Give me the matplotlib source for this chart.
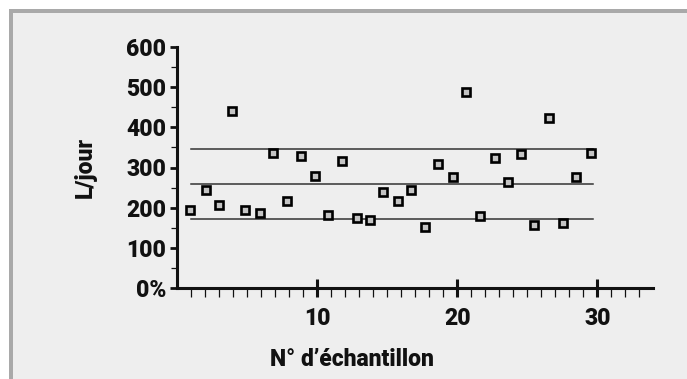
import matplotlib
import matplotlib.pyplot as plt
from matplotlib.patches import Rectangle
from matplotlib.ticker import MultipleLocator, FixedLocator

matplotlib.use('Agg')

# positions of the samples (n° d'échantillon)
sample_x = [0.93, 2.03, 2.95, 3.88, 4.84, 5.93, 6.86, 7.81, 8.86, 9.86,
            10.79, 11.74, 12.81, 13.76, 14.71, 15.76, 16.71, 17.69, 18.64, 19.69,
            20.64, 21.60, 22.67, 23.62, 24.55, 25.50, 26.57, 27.55, 28.50, 29.57]
# litres per day
litres = [195, 245, 208, 440, 195, 186, 335, 216, 328, 278,
          182, 315, 174, 169, 238, 216, 245, 153, 308, 277,
          488, 179, 324, 264, 333, 157, 424, 161, 277, 336]

# reference lines (upper / middle / lower)
ref_levels = [347, 258, 173]
ref_start, ref_end = 0.96, 29.7

y_ticks = [0, 100, 200, 300, 400, 500, 600]
y_labels = ["0%", "100", "200", "300", "400", "500", "600"]
x_ticks = [10, 20, 30]

plt.rcParams['font.family'] = ['Roboto', 'Liberation Sans', 'DejaVu Sans']
plt.rcParams['font.weight'] = 'black'
ink = "#111111"
fsize = 16.5

fig = plt.figure(figsize=(6.87, 3.79), dpi=100, facecolor="white")
# grey frame on top/left and light grey panel
fig.patches.append(Rectangle((9 / 687, 0), 1, 1 - 9 / 379, transform=fig.transFigure,
                             facecolor="#a9a9a9", edgecolor="none", zorder=-2))
fig.patches.append(Rectangle((13 / 687, 0), 1, 1 - 13 / 379, transform=fig.transFigure,
                             facecolor="#eeeeee", edgecolor="none", zorder=-1))

ax = fig.add_axes([177.3 / 687, 90.7 / 379, 476 / 687, 241.6 / 379])
ax.set_facecolor("none")

for lvl in ref_levels:
    ax.plot([ref_start, ref_end], [lvl, lvl], color="#333333", lw=1.1, zorder=2)

ax.plot(sample_x, litres, linestyle="none", marker="s", markersize=5.8,
        markerfacecolor="#c4c4c4", markeredgecolor="black", markeredgewidth=1.9,
        zorder=3, clip_on=False)

ax.set_xlim(0, 34)
ax.set_ylim(0, 600)

for side in ["top", "right"]:
    ax.spines[side].set_visible(False)
for side in ["left", "bottom"]:
    ax.spines[side].set_linewidth(2.2)
    ax.spines[side].set_color(ink)

ax.xaxis.set_major_locator(FixedLocator(x_ticks))
ax.xaxis.set_minor_locator(FixedLocator([v for v in range(1, 34) if v % 10]))
ax.set_yticks(y_ticks)
ax.set_yticklabels(y_labels)
ax.yaxis.set_minor_locator(MultipleLocator(50))

ax.tick_params(axis="x", which="major", direction="inout", length=13, width=2.2,
               color=ink, pad=7, labelsize=fsize, labelcolor=ink)
ax.tick_params(axis="x", which="minor", direction="out", length=6.5, width=0.9, color=ink)
ax.tick_params(axis="y", which="major", direction="out", length=4.8, width=2.0,
               color=ink, pad=3, labelsize=fsize, labelcolor=ink)
ax.tick_params(axis="y", which="minor", direction="out", length=4.5, width=0.9, color=ink)

ax.text(-0.193, 0.502, "L/jour", transform=ax.transAxes, rotation=90,
        ha="center", va="center", fontsize=fsize, fontweight="black", color=ink)
ax.text(0.367, -0.3216, "N° d’échantillon", transform=ax.transAxes,
        ha="center", va="baseline", fontsize=fsize, fontweight="black", color=ink)

plt.savefig("out.png", dpi=100, facecolor=fig.get_facecolor())
